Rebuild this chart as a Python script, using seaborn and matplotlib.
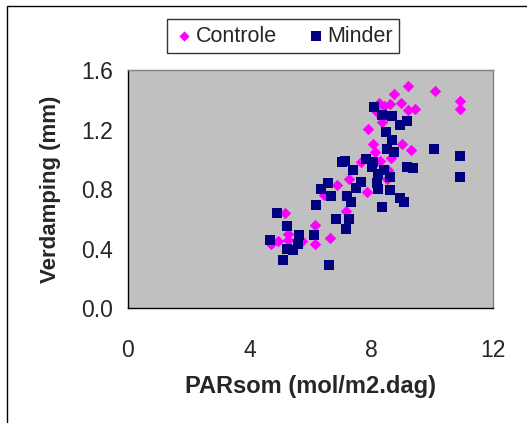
import matplotlib
matplotlib.use("Agg")
import matplotlib.pyplot as plt
import seaborn as sns
from matplotlib.patches import Rectangle

# Data
controle_x = [9.2, 10.08, 10.92, 10.92, 8.76, 8.97, 9.43, 9.19, 8.6, 8.4, 8.25, 8.18,
              8.34, 7.88, 8.05, 9.0, 9.31, 8.13, 8.66, 7.67, 8.29, 8.56, 7.25, 6.87,
              7.87, 7.17, 6.43, 5.16, 6.15, 4.94, 5.27, 5.25, 4.7, 6.64, 6.15, 5.71, 8.5]
controle_y = [1.49, 1.46, 1.39, 1.34, 1.44, 1.38, 1.34, 1.33, 1.37, 1.36, 1.38, 1.32,
              1.25, 1.20, 1.10, 1.10, 1.06, 1.05, 1.01, 0.98, 0.99, 0.93, 0.87, 0.83,
              0.78, 0.65, 0.76, 0.64, 0.56, 0.45, 0.50, 0.46, 0.43, 0.47, 0.43, 0.45, 0.87]

minder_x = [8.1, 8.34, 8.67, 9.17, 8.95, 8.47, 8.67, 8.5, 8.73, 10.07, 10.9, 10.9,
            7.14, 7.83, 8.05, 8.01, 7.39, 9.17, 9.38, 8.4, 8.23, 8.62, 7.65, 8.18,
            7.5, 6.57, 6.35, 6.67, 8.23, 8.62, 7.21, 7.33, 8.95, 9.06, 6.18, 8.34,
            4.89, 5.22, 4.67, 5.63, 5.6, 5.22, 5.44, 5.11, 6.61, 6.84, 7.17, 7.26,
            6.1, 7.05]
minder_y = [1.35, 1.30, 1.29, 1.26, 1.23, 1.18, 1.13, 1.07, 1.05, 1.07, 1.02, 0.88,
            0.99, 1.00, 0.98, 0.95, 0.93, 0.95, 0.94, 0.93, 0.90, 0.88, 0.85, 0.84,
            0.81, 0.84, 0.80, 0.75, 0.80, 0.79, 0.75, 0.71, 0.74, 0.71, 0.69, 0.68,
            0.64, 0.55, 0.46, 0.49, 0.43, 0.40, 0.39, 0.32, 0.29, 0.60, 0.53, 0.60,
            0.49, 0.98]

x_ticks = [0, 4, 8, 12]
y_ticks = [0.0, 0.4, 0.8, 1.2, 1.6]
series_names = ["Controle", "Minder"]

sns.set_style("white")
plt.rcParams["font.family"] = ["Liberation Sans", "DejaVu Sans"]

fig = plt.figure(figsize=(5.27, 4.23), dpi=100)
ax = fig.add_axes([128/527, 1-308/423, (493-128)/527, (308-70)/423])
ax.set_facecolor("#C0C0C0")

sns.scatterplot(x=controle_x, y=controle_y, color="#FF00FF", marker="D", s=34,
                linewidth=0, ax=ax, label=series_names[0])
sns.scatterplot(x=minder_x, y=minder_y, color="#000080", marker="s", s=56,
                linewidth=0, ax=ax, label=series_names[1])

ax.set_xlim(0, 12)
ax.set_ylim(0, 1.6)
ax.set_xticks(x_ticks)
ax.set_xticklabels([str(t) for t in x_ticks])
ax.set_yticks(y_ticks)
ax.set_yticklabels([f"{t:.1f}" for t in y_ticks])
ax.tick_params(axis="both", direction="out", length=6, width=1, color="black",
               labelsize=16.5)
ax.tick_params(axis="x", pad=16)
ax.tick_params(axis="y", pad=5)
for side in ["left", "bottom"]:
    ax.spines[side].set_color("black")
    ax.spines[side].set_linewidth(1)
for side in ["top", "right"]:
    ax.spines[side].set_color("#808080")
    ax.spines[side].set_linewidth(1)

ax.set_xlabel("PARsom (mol/m2.dag)", fontsize=17, fontweight="bold", labelpad=10)
ax.set_ylabel("Verdamping (mm)", fontsize=16, fontweight="bold", labelpad=14)

leg = ax.legend(loc="center", bbox_to_anchor=(283/527, 1-36/423),
                bbox_transform=fig.transFigure, ncol=2, frameon=True, fancybox=False,
                fontsize=15.5, handletextpad=0.05, columnspacing=1.3,
                borderpad=0.3, handlelength=1.0, markerscale=0.9)
leg.get_frame().set_edgecolor("black")
leg.get_frame().set_linewidth(1)

fig.patches.append(Rectangle((7/527, -0.1), 1.2, 1.1 - 6/423,
                             transform=fig.transFigure, fill=False,
                             edgecolor="black", linewidth=1, figure=fig))

fig.savefig("out.png", dpi=100)
